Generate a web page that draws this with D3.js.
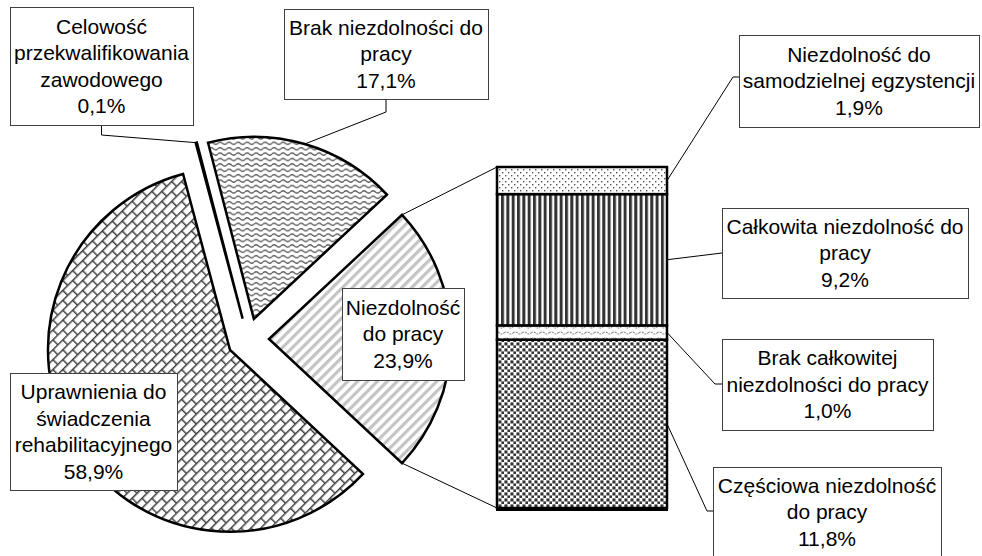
<!DOCTYPE html>
<html><head><meta charset="utf-8">
<script src="https://cdn.jsdelivr.net/npm/d3@7"></script>
<style>html,body{margin:0;padding:0;background:#fff;overflow:hidden}</style>
</head><body><svg id="c" width="982" height="556"></svg>
<script>
// ---- data ----
const pieNames = ["Uprawnienia do\nświadczenia\nrehabilitacyjnego", "Celowość\nprzekwalifikowania\nzawodowego", "Brak niezdolności do\npracy"];
const pieValues = [58.9, 0.1, 17.1];
const otherName = "Niezdolność\ndo pracy";
const barNames = ["Częściowa niezdolność\ndo pracy", "Brak całkowitej\nniezdolności do pracy", "Całkowita niezdolność do\npracy", "Niezdolność do\nsamodzielnej egzystencji"];
const barValues = [11.8, 1.0, 9.2, 1.9];

// ---- layout ----
const W = 982, H = 556;
const cx = 248, cy = 339, R = 182, explode = 21;
const bar = {x0: 497, x1: 667, top: 167, bottom: 508};
const fontSize = 21, lineH = 26.5;
const fmt = v => d3.format(".1f")(v).replace(".", ",") + "%";

const svg = d3.select("#c");
const defs = svg.append("defs");

function pat(id, w, h, transform) {
  const p = defs.append("pattern").attr("id", id).attr("patternUnits", "userSpaceOnUse")
    .attr("width", w).attr("height", h);
  if (transform) p.attr("patternTransform", transform);
  p.append("rect").attr("width", w).attr("height", h).attr("fill", "#fff");
  return p;
}
// diagonal brick
let p = pat("brick", 14, 14, "rotate(-45)");
p.append("path").attr("d", "M0,0.75H14M0,7.75H14M0.75,0.75V7.75M7.75,7.75V14.75")
  .attr("stroke", "#404040").attr("stroke-width", 1.5).attr("fill", "none");
// wave
p = pat("wave", 9, 5.4);
p.append("path").attr("d", "M0,2.7 Q2.25,0.4 4.5,2.7 T9,2.7")
  .attr("stroke", "#555").attr("stroke-width", 1.2).attr("fill", "none");
// light wave
p = pat("wave2", 9, 6);
p.append("path").attr("d", "M0,3 Q2.25,1 4.5,3 T9,3")
  .attr("stroke", "#888").attr("stroke-width", 1.1).attr("fill", "none").attr("stroke-dasharray", "2,1");
// wide upward diagonal light stripes
p = pat("stripes", 7, 7, "rotate(45)");
p.append("rect").attr("width", 3.2).attr("height", 7).attr("fill", "#c4c4c4");
// dots
p = pat("dots", 6, 6);
p.append("rect").attr("x", 1).attr("y", 1).attr("width", 1.4).attr("height", 1.4).attr("fill", "#555");
p.append("rect").attr("x", 4).attr("y", 4).attr("width", 1.4).attr("height", 1.4).attr("fill", "#555");
// dark vertical
p = pat("vstripes", 5.33, 10);
p.append("rect").attr("width", 3).attr("height", 10).attr("fill", "#333");
// confetti squares
p = pat("squares", 6, 6);
p.append("rect").attr("x", 0.4).attr("y", 0.4).attr("width", 3.1).attr("height", 3.1).attr("fill", "#333");
p.append("rect").attr("x", 3.4).attr("y", 3.4).attr("width", 3.1).attr("height", 3.1).attr("fill", "#333");

// ---- pie ----
const otherValue = d3.sum(barValues);
const allPie = [{name: otherName, value: otherValue, fill: "url(#stripes)"}]
  .concat(pieNames.map((n, i) => ({name: n, value: pieValues[i], fill: ["url(#brick)", "#fff", "url(#wave)"][i]})));
const total = d3.sum(allPie, d => d.value);
const otherAngle = otherValue / total * 2 * Math.PI;
const start = Math.PI / 2 - otherAngle / 2;
const pie = d3.pie().sort(null).value(d => d.value).startAngle(start).endAngle(start + 2 * Math.PI);
const arcs = pie(allPie);
const arcGen = d3.arc().innerRadius(0).outerRadius(R);
arcs.forEach(a => {
  const mid = (a.startAngle + a.endAngle) / 2;
  a.mid = mid;
  a.ox = cx + Math.sin(mid) * explode;
  a.oy = cy - Math.cos(mid) * explode;
  a.outer = [a.ox + Math.sin(mid) * R, a.oy - Math.cos(mid) * R];
});
svg.append("g").selectAll("path").data(arcs).join("path")
  .attr("transform", d => `translate(${d.ox},${d.oy})`)
  .attr("d", arcGen)
  .attr("fill", d => d.data.fill)
  .attr("stroke", "#000").attr("stroke-width", 2.5);

// connector lines from the "other" slice to the bar
const o = arcs[0];
const pTop = [o.ox + Math.sin(o.startAngle) * R, o.oy - Math.cos(o.startAngle) * R];
const pBot = [o.ox + Math.sin(o.endAngle) * R, o.oy - Math.cos(o.endAngle) * R];
const lines = svg.append("g").attr("stroke", "#000").attr("stroke-width", 1).attr("fill", "none");
lines.append("line").attr("x1", pTop[0]).attr("y1", pTop[1]).attr("x2", bar.x0).attr("y2", bar.top);
lines.append("line").attr("x1", pBot[0]).attr("y1", pBot[1]).attr("x2", bar.x0).attr("y2", bar.bottom);

// ---- bar ----
const y = d3.scaleLinear().domain([0, otherValue]).range([bar.bottom, bar.top]);
const stackEnds = d3.cumsum(barValues);
const segs = barValues.map((v, i) => ({name: barNames[i], value: v, y0: stackEnds[i] - v, y1: stackEnds[i],
  fill: ["url(#squares)", "url(#wave2)", "url(#vstripes)", "url(#dots)"][i]}));
svg.append("g").selectAll("rect").data(segs).join("rect")
  .attr("x", bar.x0).attr("width", bar.x1 - bar.x0)
  .attr("y", d => y(d.y1)).attr("height", d => y(d.y0) - y(d.y1))
  .attr("fill", d => d.fill).attr("stroke", "#000").attr("stroke-width", 2.5);
svg.append("line").attr("x1", bar.x0 - 1).attr("x2", bar.x1 + 1).attr("y1", y(0) + 1).attr("y2", y(0) + 1)
  .attr("stroke", "#000").attr("stroke-width", 4);

// ---- labels ----
const segMid = i => [bar.x1, y((segs[i].y0 + segs[i].y1) / 2)];
const labels = [
  {text: pieNames[0], value: pieValues[0], box: [10, 373, 167, 117], leader: null},
  {text: pieNames[1], value: pieValues[1], box: [10, 7, 183, 118], leader: [[101.5, 125], [101.5, 135], arcs[2].outer]},
  {text: pieNames[2], value: pieValues[2], box: [284, 9, 204, 90], leader: [[386, 99], [386, 112], arcs[3].outer]},
  {text: otherName, value: otherValue, box: [342, 288, 122, 92], leader: null},
  {text: barNames[3], value: barValues[3], box: [739, 35, 240, 92], leader: [[739, 77], [733, 77], segMid(3)]},
  {text: barNames[2], value: barValues[2], box: [722, 208, 246, 90], leader: [[722, 253], segMid(2)]},
  {text: barNames[1], value: barValues[1], box: [722, 339, 211, 91], leader: [[722, 384], [715, 384], segMid(1)]},
  {text: barNames[0], value: barValues[0], box: [713, 467, 228, 90], leader: [[713, 511], [707, 511], segMid(0)]}
];
const lg = svg.append("g");
labels.forEach(l => {
  if (l.leader) {
    lg.append("path").attr("d", d3.line()(l.leader)).attr("fill", "none").attr("stroke", "#000").attr("stroke-width", 1);
  }
});
labels.forEach(l => {
  const [bx, by, bw, bh] = l.box;
  lg.append("rect").attr("x", bx + 0.5).attr("y", by + 0.5).attr("width", bw).attr("height", bh)
    .attr("fill", "#fff").attr("stroke", "#404040").attr("stroke-width", 1);
  const rows = l.text.split("\n").concat([fmt(l.value)]);
  const ccx = bx + bw / 2, ccy = by + bh / 2;
  const t = lg.append("text").attr("text-anchor", "middle")
    .attr("font-family", "'Liberation Sans', Arial, sans-serif").attr("font-size", fontSize).attr("fill", "#000");
  rows.forEach((r, i) => {
    t.append("tspan").attr("x", ccx)
      .attr("y", ccy - (rows.length - 1) * lineH / 2 + i * lineH + fontSize * 0.35)
      .text(r);
  });
});
</script></body></html>
